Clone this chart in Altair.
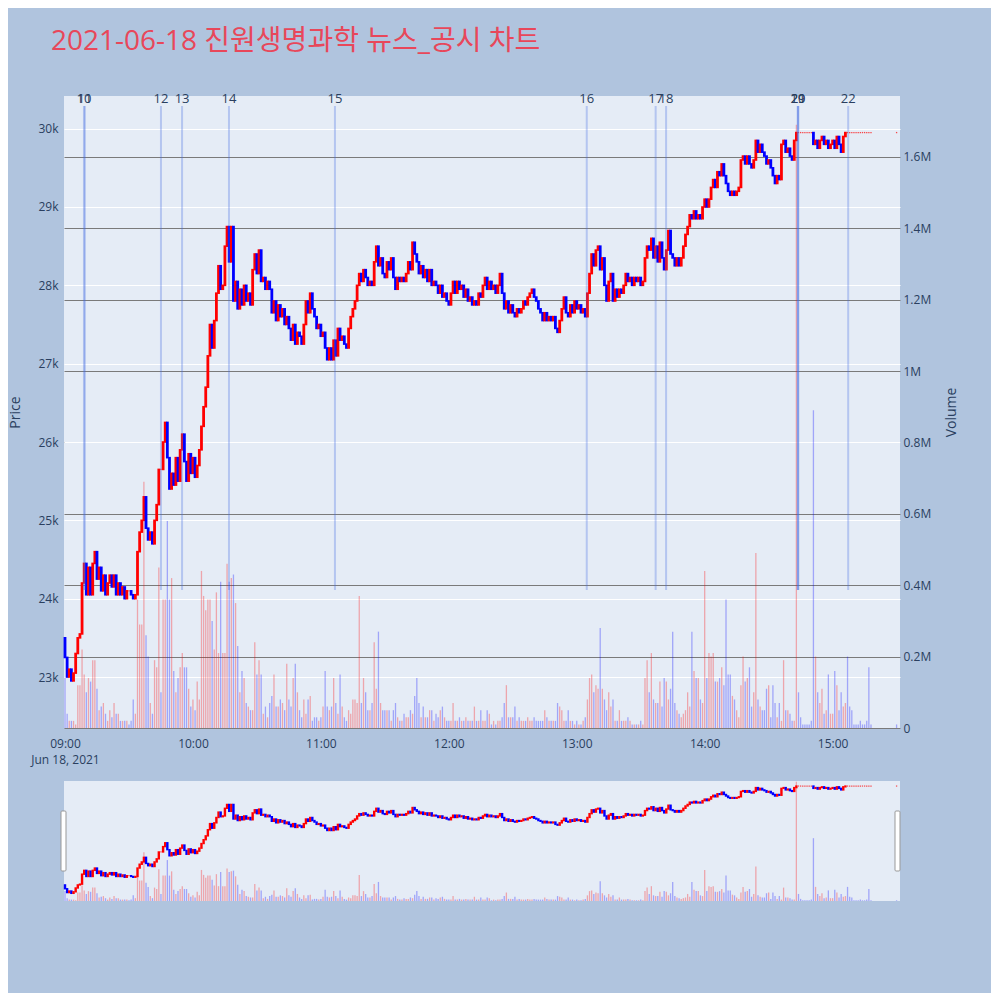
import altair as alt
import pandas as pd

TITLE = "2021-06-18 진원생명과학 뉴스_공시 차트"
FONT = "Open Sans"

# price of the first trade (open of the 09:00 candle)
first_open = 23500

# minute closes, 09:00 ... 15:19, then the 15:30 closing trade (last value)
closes = [
    23250, 23000, 23100, 22950, 23050, 23300, 23500, 23550, 24200, 24450,
    24050, 24400, 24050, 24450, 24600, 24250, 24400, 24100, 24300, 24050,
    24200, 24300, 24150, 24300, 24050, 24200, 24050, 24150, 24000, 24100,
    24100, 24050, 24000, 24050, 24600, 24850, 25000, 25300, 24900, 24750,
    24850, 24700, 25000, 25200, 25650, 25650, 26000, 26250, 25800, 25400,
    25600, 25450, 25800, 25500, 25900, 26100, 25750, 25500, 25850, 25600,
    25800, 25550, 25700, 25900, 26200, 26450, 26700, 27100, 27500, 27200,
    27550, 27900, 28250, 27950, 28000, 28500, 28750, 28300, 28750, 27800,
    28050, 27700, 27950, 27750, 28000, 27800, 27900, 27750, 28200, 28400,
    28150, 28450, 28050, 28100, 27950, 28050, 27950, 27650, 27800, 27550,
    27750, 27600, 27700, 27500, 27600, 27450, 27300, 27500, 27250, 27400,
    27350, 27250, 27500, 27800, 27650, 27900, 27700, 27600, 27450, 27500,
    27350, 27400, 27200, 27050, 27200, 27050, 27300, 27100, 27450, 27300,
    27350, 27250, 27200, 27450, 27600, 27700, 27800, 28000, 28150, 28050,
    28200, 28100, 28000, 28050, 28000, 28300, 28500, 28250, 28350, 28150,
    28100, 28300, 28200, 28350, 28100, 27950, 28100, 28050, 28100, 28050,
    28150, 28300, 28200, 28550, 28400, 28300, 28150, 28250, 28100, 28200,
    28050, 28200, 28000, 28050, 28000, 27900, 28000, 27850, 27900, 27800,
    27750, 27900, 28050, 27900, 28050, 27950, 28000, 27850, 27950, 27800,
    27850, 27750, 27800, 27750, 27900, 27850, 28000, 28100, 27950, 28050,
    27950, 28000, 27900, 28000, 28150, 27900, 27700, 27800, 27650, 27750,
    27650, 27600, 27700, 27650, 27700, 27800, 27750, 27850, 27900, 27950,
    27850, 27800, 27700, 27650, 27550, 27650, 27550, 27600, 27550, 27600,
    27450, 27400, 27550, 27700, 27850, 27650, 27600, 27750, 27650, 27800,
    27700, 27750, 27650, 27700, 27600, 27900, 28150, 28400, 28250, 28450,
    28500, 28200, 28350, 28000, 27800, 28050, 28150, 27800, 27950, 27850,
    27950, 27900, 28000, 28150, 28050, 28100, 28000, 28100, 28050, 28100,
    28000, 28050, 28350, 28500, 28450, 28600, 28350, 28500, 28300, 28550,
    28350, 28200, 28450, 28700, 28400, 28350, 28250, 28350, 28250, 28350,
    28500, 28650, 28750, 28900, 28850, 28950, 28850, 28900, 28850, 29000,
    29100, 29000, 29100, 29250, 29350, 29250, 29450, 29400, 29550, 29400,
    29300, 29200, 29150, 29200, 29150, 29200, 29250, 29600, 29650, 29550,
    29650, 29550, 29500, 29600, 29850, 29700, 29800, 29700, 29650, 29550,
    29600, 29500, 29400, 29300, 29400, 29350, 29800, 29850, 29700, 29750,
    29650, 29600, 29850, 29950, 29950, 29950, 29950, 29950, 29950, 29950,
    29950, 29800, 29850, 29750, 29850, 29900, 29800, 29850, 29750, 29800,
    29850, 29750, 29900, 29800, 29700, 29900, 29950, 29950, 29950, 29950,
    29950, 29950, 29950, 29950, 29950, 29950, 29950, 29950, 29950,
    29950,
]

# minute volumes in millions of shares (same order as closes)
volumes_m = [
    0.14, 0.04, 0.02, 0.02, 0.02, 0.01, 0.12, 0.12, 0.22, 0.15,
    0.10, 0.14, 0.13, 0.19, 0.19, 0.11, 0.05, 0.06, 0.07, 0.04,
    0.02, 0.05, 0.03, 0.07, 0.04, 0.04, 0.02, 0.02, 0.02, 0.02,
    0.01, 0.02, 0.08, 0.04, 0.36, 0.29, 0.29, 0.69, 0.26, 0.20,
    0.07, 0.04, 0.19, 0.17, 0.45, 0.10, 0.36, 0.36, 0.58, 0.36,
    0.42, 0.16, 0.10, 0.14, 0.17, 0.21, 0.17, 0.17, 0.11, 0.06,
    0.08, 0.05, 0.13,
    0.08, 0.44, 0.37, 0.33, 0.36, 0.36, 0.30, 0.22, 0.38, 0.21,
    0.41, 0.21, 0.21, 0.46, 0.41, 0.42, 0.43, 0.35, 0.23, 0.10,
    0.16, 0.14, 0.07, 0.06, 0.05, 0.05, 0.24, 0.15, 0.19, 0.15,
    0.04, 0.06, 0.03, 0.07, 0.09, 0.15, 0.06, 0.06, 0.08, 0.07,
    0.05, 0.18, 0.08, 0.06, 0.14, 0.18, 0.10, 0.05, 0.03, 0.08,
    0.04, 0.08, 0.09, 0.02, 0.03, 0.03, 0.02, 0.03, 0.06, 0.16,
    0.06, 0.05, 0.06, 0.14, 0.07,
    0.04, 0.15, 0.06, 0.03, 0.02, 0.05, 0.04, 0.08, 0.08, 0.07,
    0.37, 0.07, 0.14, 0.10, 0.05, 0.05, 0.07, 0.24, 0.11, 0.27,
    0.07, 0.05, 0.05, 0.05, 0.05, 0.02, 0.05, 0.07, 0.03, 0.02,
    0.02, 0.04, 0.03, 0.03, 0.05, 0.04, 0.09, 0.14, 0.07, 0.03,
    0.06, 0.03, 0.03, 0.05, 0.05, 0.02, 0.04, 0.03, 0.05, 0.06,
    0.03, 0.02, 0.02, 0.02, 0.07, 0.02, 0.02, 0.03, 0.02, 0.02,
    0.03, 0.02, 0.02, 0.02, 0.06,
    0.02, 0.02, 0.05, 0.02, 0.02, 0.05, 0.04, 0.01, 0.02, 0.01,
    0.02, 0.02, 0.03, 0.07, 0.12, 0.03, 0.03, 0.03, 0.06, 0.02,
    0.03, 0.02, 0.02, 0.02, 0.03, 0.02, 0.02, 0.03, 0.02,
    0.02, 0.02, 0.02, 0.05, 0.03, 0.02, 0.02, 0.02, 0.02, 0.07,
    0.06, 0.05, 0.02, 0.02, 0.05, 0.02, 0.02, 0.01, 0.02, 0.01,
    0.01, 0.02, 0.03, 0.08, 0.14, 0.15, 0.10, 0.12, 0.11, 0.28,
    0.11, 0.08, 0.05, 0.10, 0.06,
    0.08, 0.02, 0.02, 0.05, 0.02, 0.02, 0.02, 0.03, 0.02, 0.01,
    0.01, 0.01, 0.01, 0.02, 0.01, 0.14, 0.19, 0.10, 0.21, 0.08,
    0.07, 0.07, 0.13, 0.06, 0.14, 0.13, 0.08, 0.11, 0.27, 0.07,
    0.05, 0.04, 0.03, 0.04, 0.05, 0.10, 0.06, 0.27, 0.16, 0.14,
    0.14, 0.08, 0.07, 0.44, 0.14, 0.21, 0.20, 0.21, 0.13, 0.13,
    0.14, 0.17, 0.12, 0.36, 0.15, 0.15, 0.09, 0.08, 0.05, 0.03,
    0.12, 0.20, 0.13, 0.14, 0.17,
    0.06, 0.10, 0.49, 0.08, 0.06, 0.05, 0.05, 0.11, 0.12, 0.03,
    0.12, 0.07, 0.03, 0.07, 0.02, 0.19, 0.05, 0.05, 0.04, 0.02,
    0.02, 1.69, 0.10, 0.03, 0.01, 0.01, 0.01, 0.01, 0.02, 0.89,
    0.20, 0.10, 0.07, 0.11, 0.04, 0.05, 0.15, 0.04, 0.04, 0.16,
    0.12, 0.05, 0.10, 0.06, 0.07, 0.20, 0.06, 0.05, 0.01, 0.01,
    0.01, 0.02, 0.01, 0.01, 0.02, 0.17, 0.01, 0.01,
    0.02,
]

# news / disclosure markers (number, minutes after 09:00)
news_ids = [10, 11, 12, 13, 14, 15, 16, 17, 18, 19, 20, 21, 22]
news_min = [8.9, 9.3, 45.0, 54.9, 76.9, 126.6, 244.7, 277.0, 281.9, 343.6, 343.8, 343.9, 367.3]

x_ticks = [0, 60, 120, 180, 240, 300, 360]
price_ticks = [23000, 24000, 25000, 26000, 27000, 28000, 29000, 30000]
volume_ticks = [0, 200000, 400000, 600000, 800000, 1000000, 1200000, 1400000, 1600000]

n = min(len(closes), len(volumes_m))
minutes = list(range(n - 1)) + [390]
opens = [first_open] + closes[: n - 1]
df = pd.DataFrame({
    "m": minutes,
    "o": opens,
    "c": closes[:n],
    "v": [round(x * 1_000_000) for x in volumes_m[:n]],
})
df["dir"] = ["up" if c >= o else "down" for o, c in zip(df["o"], df["c"])]
df["vdir"] = ["up" if c > o else "down" for o, c in zip(df["o"], df["c"])]

news_df = pd.DataFrame({"id": news_ids, "m": news_min})

X_DOM = [-0.47, 391.6]
P_DOM = [22349, 30417]
V_DOM = [0, 1770600]
P_DOM_S = [22450, 30280]
V_DOM_S = [0, 1700000]

col_scale = alt.Scale(domain=["up", "down"], range=["#ff0000", "#0000ff"])

x_scale = alt.Scale(domain=X_DOM, nice=False, zero=False, padding=0)
x_axis = alt.Axis(
    values=x_ticks,
    labelExpr="datum.value == 0 ? ['09:00', 'Jun 18, 2021'] : (datum.value / 60 + 9) + ':00'",
    grid=False, ticks=False, tickSize=0, domain=False, labelFlush=False, labelPadding=10,
    labelLineHeight=16, labelFontSize=12, labelOverlap=False,
)
x_enc = alt.X("m:Q", scale=x_scale, axis=x_axis, title=None)
x_enc_s = alt.X("m:Q", scale=x_scale, axis=None)

price_axis = alt.Axis(
    orient="left", values=price_ticks, labelExpr="format(datum.value / 1000, '~g') + 'k'",
    grid=True, gridColor="#ffffff", gridWidth=1, ticks=False, tickSize=0, domain=False,
    labelPadding=6, titlePadding=15, labelFontSize=12,
)
vol_axis = alt.Axis(
    orient="right", values=volume_ticks,
    labelExpr="datum.value == 0 ? '0' : format(datum.value / 1000000, '~g') + 'M'",
    grid=True, gridColor="#7a7a7a", gridWidth=1, ticks=False, tickSize=0, domain=False,
    labelPadding=3, titlePadding=28, titleAngle=270, labelFontSize=12,
)

p_scale = alt.Scale(domain=P_DOM, nice=False, zero=False, padding=0)
p_scale_s = alt.Scale(domain=P_DOM_S, nice=False, zero=False, padding=0)

vol = alt.Chart(df).mark_bar(size=1.3, opacity=0.3).encode(
    x=x_enc,
    y=alt.Y("v:Q", scale=alt.Scale(domain=V_DOM, nice=False, padding=0), axis=vol_axis, title="Volume"),
    color=alt.Color("vdir:N", scale=col_scale, legend=None),
)

body = alt.Chart(df).transform_filter("datum.o != datum.c").mark_bar(size=1.2, strokeWidth=1.6).encode(
    x=x_enc,
    y=alt.Y("o:Q", scale=p_scale, axis=price_axis, title="Price"),
    y2="c:Q",
    color=alt.Color("dir:N", scale=col_scale, legend=None),
    stroke=alt.Stroke("dir:N", scale=col_scale, legend=None),
)
flat = alt.Chart(df).transform_filter("datum.o == datum.c").mark_tick(
    orient="horizontal", size=1.3, thickness=1.3
).encode(
    x=x_enc,
    y=alt.Y("c:Q", scale=p_scale, axis=price_axis, title="Price"),
    color=alt.Color("dir:N", scale=col_scale, legend=None),
)

rules = alt.Chart(news_df).mark_rule(color="#4169e1", opacity=0.3, strokeWidth=2).encode(
    x=x_enc, y=alt.value(10), y2=alt.value(494)
)
labels = alt.Chart(news_df).mark_text(
    fontSize=13, color="#2a3f5f", baseline="middle", font=FONT
).encode(x=x_enc, y=alt.value(3), text="id:N")

top = alt.layer(vol, alt.layer(body, flat), rules, labels).resolve_scale(
    y="independent"
).properties(width=836, height=632)

# range slider
vol_s = alt.Chart(df).mark_bar(size=1.3, opacity=0.3).encode(
    x=x_enc_s,
    y=alt.Y("v:Q", scale=alt.Scale(domain=V_DOM_S, nice=False, padding=0), axis=None),
    color=alt.Color("vdir:N", scale=col_scale, legend=None),
)
body_s = alt.Chart(df).transform_filter("datum.o != datum.c").mark_bar(size=1.0, strokeWidth=1.4).encode(
    x=x_enc_s,
    y=alt.Y("o:Q", scale=p_scale_s, axis=None),
    y2="c:Q",
    color=alt.Color("dir:N", scale=col_scale, legend=None),
    stroke=alt.Stroke("dir:N", scale=col_scale, legend=None),
)
flat_s = alt.Chart(df).transform_filter("datum.o == datum.c").mark_tick(
    orient="horizontal", size=1.3, thickness=1.2
).encode(
    x=x_enc_s,
    y=alt.Y("c:Q", scale=p_scale_s, axis=None),
    color=alt.Color("dir:N", scale=col_scale, legend=None),
)
handle_df = pd.DataFrame({"k": [0]})
h_left = alt.Chart(handle_df).mark_rect(fill="white", stroke="#999999", strokeWidth=1, cornerRadius=1).encode(
    x=alt.value(-3), x2=alt.value(2), y=alt.value(30), y2=alt.value(90)
)
h_right = alt.Chart(handle_df).mark_rect(fill="white", stroke="#999999", strokeWidth=1, cornerRadius=1).encode(
    x=alt.value(831), x2=alt.value(836), y=alt.value(30), y2=alt.value(90)
)
slider = alt.layer(vol_s, alt.layer(body_s, flat_s), h_left, h_right).resolve_scale(
    y="independent"
).properties(width=836, height=120)

chart = alt.vconcat(top, slider, spacing=16).properties(
    title=alt.Title(
        TITLE, anchor="start", fontSize=28, color="#e8475a",
        font="Open Sans, Noto Sans CJK KR", fontWeight="normal", dx=42, offset=37,
    ),
    background="#B0C4DE",
    padding={"left": 0, "top": 20, "right": 32, "bottom": 92},
).configure_view(
    fill="#E5ECF6", strokeWidth=0
).configure_axis(
    labelFont=FONT, titleFont=FONT, labelColor="#2a3f5f", titleColor="#2a3f5f",
    titleFontSize=14, titleFontWeight="normal",
)

chart.save("out.html", embed_options={"renderer": "svg", "actions": False})
